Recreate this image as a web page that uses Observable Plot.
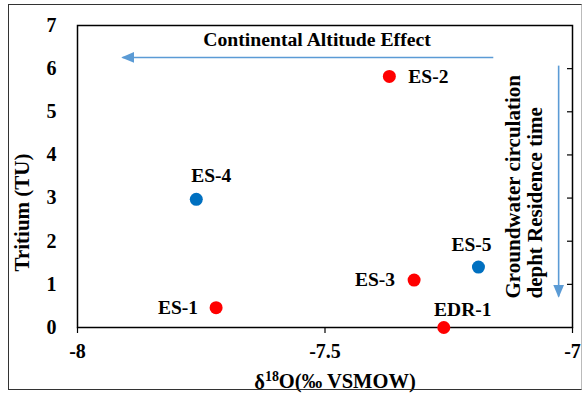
<!DOCTYPE html>
<html>
<head>
<meta charset="utf-8">
<script src="https://cdn.jsdelivr.net/npm/d3@7"></script>
<script src="https://cdn.jsdelivr.net/npm/@observablehq/plot@0.6"></script>
<style>
  body { margin: 0; background: #fff; }
  #chart { position: relative; width: 583px; height: 393px; }
  #chart svg { position: absolute; left: 0; top: 0; }
  #chart .outer {
    position: absolute; left: 8px; top: 4px; width: 574px; height: 386px;
    border: 1.5px solid #333; border-right-color: #bbb; box-sizing: border-box;
    pointer-events: none;
  }
</style>
</head>
<body>
<div id="chart"><div class="outer"></div></div>
<script>
// Sampling sites: δ18O (‰ VSMOW) against tritium (TU)
const sites    = ["ES-1", "ES-2", "ES-3", "ES-4", "ES-5", "EDR-1"];
const delta18O = [-7.72, -7.37, -7.32, -7.76, -7.19, -7.26];
const tritium  = [0.46, 5.82, 1.10, 2.97, 1.40, 0.00];
const groups   = ["A", "A", "A", "B", "B", "A"];

const xTicks = [-8, -7.5, -7];
const xTickLabels = ["-8", "-7.5", "-7"];
const yTicks = [0, 1, 2, 3, 4, 5, 6, 7];
const yTickLabels = ["0", "1", "2", "3", "4", "5", "6", "7"];

// x-axis title pieces: δ, superscript mass number, remainder
const xTitle = ["δ", "18", "O(‰ VSMOW)"];

// Annotation arrows, in data units
const altitudeArrow = [{x1: -7.16, y1: 6.26, x2: -7.909, y2: 6.26}];
const depthArrow    = [{x1: -7.028, y1: 6.07, x2: -7.028, y2: 0.72}];

const samples = sites.map((site, i) => ({site, d18O: delta18O[i], tu: tritium[i], group: groups[i]}));

// Where each site's label sits relative to its dot
const labelPlacement = {
  "ES-1":  {textAnchor: "end",    dx: -18, dy: 0},
  "ES-2":  {textAnchor: "start",  dx: 19,  dy: 0},
  "ES-3":  {textAnchor: "end",    dx: -19, dy: 0},
  "ES-4":  {textAnchor: "middle", dx: 15,  dy: -24},
  "ES-5":  {textAnchor: "middle", dx: -7,  dy: -22},
  "EDR-1": {textAnchor: "middle", dx: 19,  dy: -18}
};

const blue = "#5b9bd5";

const chart = Plot.plot({
  width: 583,
  height: 393,
  marginLeft: 77,
  marginRight: 11,
  marginTop: 25,
  marginBottom: 66,
  x: {domain: [-8, -7]},
  y: {domain: [0, 7]},
  color: {domain: ["A", "B"], range: ["#ff0000", "#0070c0"]},
  style: {
    fontFamily: "'Liberation Serif', 'Times New Roman', serif",
    fontSize: "20px",
    fontWeight: "bold",
    color: "#000",
    background: "transparent",
    overflow: "visible"
  },
  marks: [
    Plot.frame({stroke: "#000", strokeWidth: 1.5}),
    Plot.axisX({ticks: xTicks, tickFormat: d => xTickLabels[xTicks.indexOf(d)], tickSize: 6, tickPadding: 10, label: null, strokeWidth: 1.2}),
    Plot.axisY({ticks: yTicks, tickFormat: d => yTickLabels[yTicks.indexOf(d)], tickSize: 0, tickPadding: 21, label: null}),
    // inward ticks along the right edge
    Plot.axisY({anchor: "right", ticks: yTicks.slice(1, -1), tickSize: 6, dx: -6, tickFormat: () => "", label: null, strokeWidth: 1.2}),
    Plot.link(altitudeArrow, {x1: "x1", y1: "y1", x2: "x2", y2: "y2", stroke: blue, strokeWidth: 1.6, markerEnd: "arrow"}),
    Plot.link(depthArrow, {x1: "x1", y1: "y1", x2: "x2", y2: "y2", stroke: blue, strokeWidth: 1.6, markerEnd: "arrow"}),
    Plot.dot(samples, {x: "d18O", y: "tu", fill: "group", r: 6.5}),
    ...sites.map(s => Plot.text(samples.filter(d => d.site === s), {
      x: "d18O", y: "tu", text: "site", fontSize: 19.5, ...labelPlacement[s]
    })),
    Plot.text(["Continental Altitude Effect"], {text: d => d, frameAnchor: "top", lineAnchor: "bottom", dx: -8, dy: 20, fontSize: 19.7}),
    Plot.text(["Groundwater circulation\ndepht Residence time"], {
      text: d => d, frameAnchor: "bottom-right", rotate: -90, textAnchor: "start", lineAnchor: "middle",
      lineHeight: 1.05, dx: -49, dy: -29, fontSize: 21
    }),
    Plot.text(["Tritium (TU)"], {text: d => d, frameAnchor: "left", rotate: -90, textAnchor: "middle", dx: -55, dy: 36, fontSize: 21}),
    Plot.text([xTitle.join("")], {text: d => d, frameAnchor: "bottom", lineAnchor: "bottom", dx: 10, dy: 61, fontSize: 20.5, className: "x-title"})
  ]
});

// Raise the mass number in the x-axis title
d3.select(chart).selectAll(".x-title text").each(function() {
  const t = d3.select(this).text("");
  t.append("tspan").text(xTitle[0]);
  t.append("tspan").attr("font-size", "0.68em").attr("dy", "-0.55em").text(xTitle[1]);
  t.append("tspan").attr("dy", "0.37em").text(xTitle[2]);
});

// Solid triangular arrowheads
d3.select(chart).selectAll("marker")
  .attr("viewBox", "-5 -5 10 10")
  .attr("markerUnits", "userSpaceOnUse")
  .attr("markerWidth", 13)
  .attr("markerHeight", 13)
  .attr("refX", 4)
  .attr("refY", 0)
  .each(function() {
    const m = d3.select(this);
    const color = m.attr("stroke") || blue;
    m.attr("fill", color).attr("stroke", "none");
    m.selectAll("path").attr("d", "M-5,-4.2L5,0L-5,4.2Z").attr("fill", color).attr("stroke", "none");
  });

document.getElementById("chart").prepend(chart);
</script>
</body>
</html>
